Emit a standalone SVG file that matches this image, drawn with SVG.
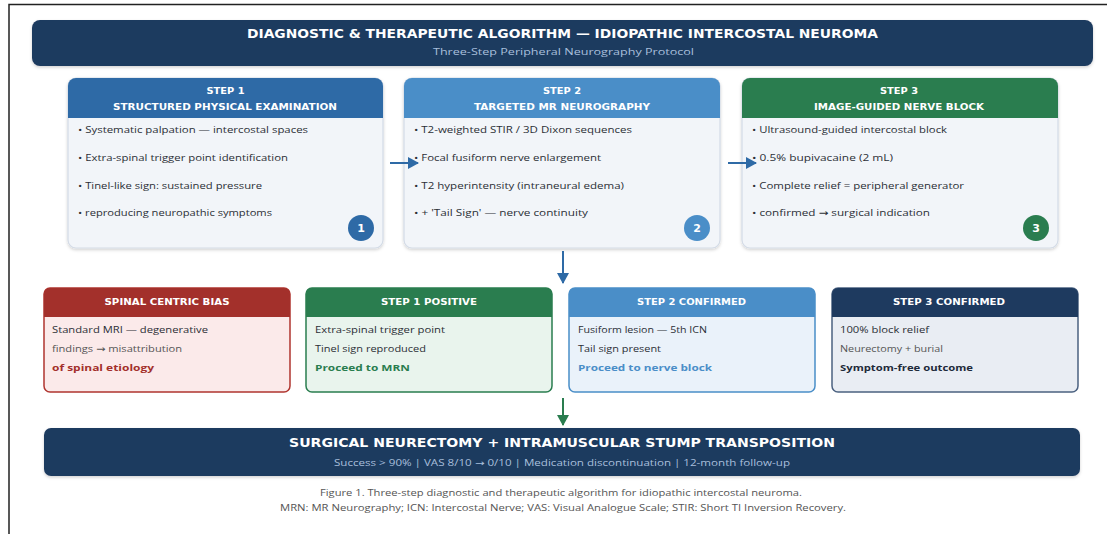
<svg xmlns="http://www.w3.org/2000/svg" width="1107" height="534" viewBox="0 0 1107 534">
<style>
.bg{fill:#ffffff}
.frame{fill:none;stroke:#222;stroke-width:1.5}
.navy{fill:#1e3a5f}
.ttl{font-family:"DejaVu Sans",sans-serif;font-weight:bold;fill:#ffffff}
.sub{font-family:"Open Sans","DejaVu Sans",sans-serif;fill:#a8bfdc}
.body{fill:#f2f5f9;stroke:#d3dbe6;stroke-width:1.2}
.bul{font-family:"Open Sans","DejaVu Sans",sans-serif;font-size:9.5px;fill:#2b2f36}
.hd{font-family:"DejaVu Sans",sans-serif;font-weight:bold;font-size:9px;fill:#ffffff;text-anchor:middle}
.num{font-family:"DejaVu Sans",sans-serif;font-weight:bold;font-size:11px;fill:#ffffff;text-anchor:middle}
.ln{font-family:"Open Sans","DejaVu Sans",sans-serif;font-size:9.5px;fill:#2b2f36}
.lnb{font-family:"Open Sans","DejaVu Sans",sans-serif;font-size:9.5px;font-weight:bold}
.cap{font-family:"Open Sans","DejaVu Sans",sans-serif;font-size:8.5px;fill:#555;text-anchor:middle}
.conn{fill:none;stroke-width:2}
</style>
<defs>
<marker id="ab" markerUnits="userSpaceOnUse" markerWidth="12" markerHeight="12" refX="10" refY="6" orient="auto"><path d="M0,0 L11,6 L0,12 z" fill="#2e6aa6"/></marker>
<marker id="ag" markerUnits="userSpaceOnUse" markerWidth="12" markerHeight="12" refX="10" refY="6" orient="auto"><path d="M0,0 L11,6 L0,12 z" fill="#2a7d4f"/></marker>
<filter id="sh" x="-5%" y="-5%" width="110%" height="120%"><feDropShadow dx="0" dy="1.5" stdDeviation="1.5" flood-color="#000" flood-opacity="0.18"/></filter>
</defs>
<rect class="bg" x="0" y="0" width="1107" height="534"/>
<path class="frame" d="M9,534 V4.5 H1107"/>

<g id="header">
<rect class="navy" x="32" y="20" width="1061" height="46" rx="8" filter="url(#sh)"/>
<text class="ttl" x="562.5" y="38" font-size="11.5" text-anchor="middle" textLength="631" lengthAdjust="spacingAndGlyphs">DIAGNOSTIC &amp; THERAPEUTIC ALGORITHM — IDIOPATHIC INTERCOSTAL NEUROMA</text>
<text class="sub" x="563.5" y="55" font-size="8.5" text-anchor="middle" textLength="261" lengthAdjust="spacingAndGlyphs">Three-Step Peripheral Neurography Protocol</text>
</g>

<g id="step1">
<rect class="body" x="68" y="78" width="315" height="170" rx="8" filter="url(#sh)"/>
<path d="M68,118 V86 a8,8 0 0 1 8,-8 H375 a8,8 0 0 1 8,8 V118 z" fill="#2e6aa6"/>
<text class="hd" x="225.5" y="94" textLength="38" lengthAdjust="spacingAndGlyphs">STEP  1</text>
<text class="hd" x="225" y="110" textLength="224" lengthAdjust="spacingAndGlyphs">STRUCTURED PHYSICAL EXAMINATION</text>
<text class="bul" x="78" y="133" textLength="230" lengthAdjust="spacingAndGlyphs">• Systematic palpation — intercostal spaces</text>
<text class="bul" x="78" y="161" textLength="210" lengthAdjust="spacingAndGlyphs">• Extra-spinal trigger point identification</text>
<text class="bul" x="78" y="189" textLength="184" lengthAdjust="spacingAndGlyphs">• Tinel-like sign: sustained pressure</text>
<text class="bul" x="78" y="216" textLength="194" lengthAdjust="spacingAndGlyphs">• reproducing neuropathic symptoms</text>
<circle cx="361" cy="228" r="13" fill="#2e6aa6"/>
<text class="num" x="361" y="232">1</text>
</g>

<g id="step2">
<rect class="body" x="404" y="78" width="316" height="170" rx="8" filter="url(#sh)"/>
<path d="M404,118 V86 a8,8 0 0 1 8,-8 H712 a8,8 0 0 1 8,8 V118 z" fill="#4a8ec8"/>
<text class="hd" x="562" y="94" textLength="38" lengthAdjust="spacingAndGlyphs">STEP  2</text>
<text class="hd" x="562" y="110" textLength="176" lengthAdjust="spacingAndGlyphs">TARGETED MR NEUROGRAPHY</text>
<text class="bul" x="414" y="133" textLength="218" lengthAdjust="spacingAndGlyphs">• T2-weighted STIR / 3D Dixon sequences</text>
<text class="bul" x="414" y="161" textLength="187" lengthAdjust="spacingAndGlyphs">• Focal fusiform nerve enlargement</text>
<text class="bul" x="414" y="189" textLength="210" lengthAdjust="spacingAndGlyphs">• T2 hyperintensity (intraneural edema)</text>
<text class="bul" x="414" y="216" textLength="174" lengthAdjust="spacingAndGlyphs">• + 'Tail Sign' — nerve continuity</text>
<circle cx="697" cy="228" r="13" fill="#4a8ec8"/>
<text class="num" x="697" y="232">2</text>
</g>

<g id="step3">
<rect class="body" x="742" y="78" width="316" height="170" rx="8" filter="url(#sh)"/>
<path d="M742,118 V86 a8,8 0 0 1 8,-8 H1050 a8,8 0 0 1 8,8 V118 z" fill="#2a7d4f"/>
<text class="hd" x="899" y="94" textLength="38" lengthAdjust="spacingAndGlyphs">STEP  3</text>
<text class="hd" x="899" y="110" textLength="170" lengthAdjust="spacingAndGlyphs">IMAGE-GUIDED NERVE BLOCK</text>
<text class="bul" x="752" y="133" textLength="195" lengthAdjust="spacingAndGlyphs">• Ultrasound-guided intercostal block</text>
<text class="bul" x="752" y="161" textLength="141" lengthAdjust="spacingAndGlyphs">• 0.5% bupivacaine (2 mL)</text>
<text class="bul" x="752" y="189" textLength="212" lengthAdjust="spacingAndGlyphs">• Complete relief = peripheral generator</text>
<text class="bul" x="752" y="216" textLength="178" lengthAdjust="spacingAndGlyphs">• confirmed  →  surgical indication</text>
<circle cx="1036" cy="228" r="13" fill="#2a7d4f"/>
<text class="num" x="1036" y="232">3</text>
</g>

<g id="bias">
<rect x="44" y="288" width="246" height="104" rx="6" fill="#fbeaea" stroke="#b0352f" stroke-width="1.5"/>
<path d="M44,317 V294 a6,6 0 0 1 6,-6 H284 a6,6 0 0 1 6,6 V317 z" fill="#a3302b"/>
<text class="hd" x="167" y="305" textLength="125" lengthAdjust="spacingAndGlyphs">SPINAL CENTRIC BIAS</text>
<text class="ln" x="52" y="333" textLength="156" lengthAdjust="spacingAndGlyphs">Standard MRI — degenerative</text>
<text class="ln" x="52" y="352" fill="#555" style="fill:#555" textLength="130" lengthAdjust="spacingAndGlyphs">findings → misattribution</text>
<text class="lnb" x="52" y="371" fill="#a3302b" textLength="102" lengthAdjust="spacingAndGlyphs">of spinal etiology</text>
</g>

<g id="step1pos">
<rect x="306" y="288" width="246" height="104" rx="6" fill="#e9f4ed" stroke="#2a7d4f" stroke-width="1.5"/>
<path d="M306,317 V294 a6,6 0 0 1 6,-6 H546 a6,6 0 0 1 6,6 V317 z" fill="#2a7d4f"/>
<text class="hd" x="429" y="305" textLength="96" lengthAdjust="spacingAndGlyphs">STEP 1 POSITIVE</text>
<text class="ln" x="315" y="333" textLength="130" lengthAdjust="spacingAndGlyphs">Extra-spinal trigger point</text>
<text class="ln" x="315" y="352" textLength="111" lengthAdjust="spacingAndGlyphs">Tinel sign reproduced</text>
<text class="lnb" x="315" y="371" fill="#2a7d4f" textLength="95" lengthAdjust="spacingAndGlyphs">Proceed to MRN</text>
</g>

<g id="step2conf">
<rect x="569" y="288" width="246" height="104" rx="6" fill="#eaf2fa" stroke="#4a8ec8" stroke-width="1.5"/>
<path d="M569,317 V294 a6,6 0 0 1 6,-6 H809 a6,6 0 0 1 6,6 V317 z" fill="#4a8ec8"/>
<text class="hd" x="691.5" y="305" textLength="109" lengthAdjust="spacingAndGlyphs">STEP 2 CONFIRMED</text>
<text class="ln" x="578" y="333" textLength="129" lengthAdjust="spacingAndGlyphs">Fusiform lesion — 5th ICN</text>
<text class="ln" x="578" y="352" textLength="83" lengthAdjust="spacingAndGlyphs">Tail sign present</text>
<text class="lnb" x="578" y="371" fill="#4a8ec8" textLength="134" lengthAdjust="spacingAndGlyphs">Proceed to nerve block</text>
</g>

<g id="step3conf">
<rect x="832" y="288" width="246" height="104" rx="6" fill="#e9edf3" stroke="#4b6180" stroke-width="1.5"/>
<path d="M832,317 V294 a6,6 0 0 1 6,-6 H1072 a6,6 0 0 1 6,6 V317 z" fill="#1e3a5f"/>
<text class="hd" x="949" y="305" textLength="112" lengthAdjust="spacingAndGlyphs">STEP 3 CONFIRMED</text>
<text class="ln" x="840" y="333" textLength="89" lengthAdjust="spacingAndGlyphs">100% block relief</text>
<text class="ln" x="840" y="352" style="fill:#555" textLength="103" lengthAdjust="spacingAndGlyphs">Neurectomy + burial</text>
<text class="lnb" x="840" y="371" fill="#1e2a3a" textLength="133" lengthAdjust="spacingAndGlyphs">Symptom-free outcome</text>
</g>

<g id="surgery">
<rect class="navy" x="44" y="428" width="1036" height="48" rx="7" filter="url(#sh)"/>
<text class="ttl" x="562" y="447" font-size="12.5" text-anchor="middle" textLength="546" lengthAdjust="spacingAndGlyphs">SURGICAL NEURECTOMY  +  INTRAMUSCULAR STUMP TRANSPOSITION</text>
<text class="sub" x="562" y="466" font-size="8.5" text-anchor="middle" textLength="456" lengthAdjust="spacingAndGlyphs">Success &gt; 90%  |  VAS 8/10 → 0/10  |  Medication discontinuation  |  12-month follow-up</text>
</g>

<g id="caption">
<text class="cap" x="561" y="496" textLength="482" lengthAdjust="spacingAndGlyphs">Figure 1. Three-step diagnostic and therapeutic algorithm for idiopathic intercostal neuroma.</text>
<text class="cap" x="563" y="511" textLength="566" lengthAdjust="spacingAndGlyphs">MRN: MR Neurography; ICN: Intercostal Nerve; VAS: Visual Analogue Scale; STIR: Short TI Inversion Recovery.</text>
</g>

<g id="connectors">
<line class="conn" x1="390" y1="163" x2="418" y2="163" stroke="#2e6aa6" marker-end="url(#ab)"/>
<line class="conn" x1="728" y1="163" x2="756" y2="163" stroke="#2e6aa6" marker-end="url(#ab)"/>
<line class="conn" x1="563" y1="251" x2="563" y2="283" stroke="#2e6aa6" marker-end="url(#ab)"/>
<line class="conn" x1="563" y1="398" x2="563" y2="425" stroke="#2a7d4f" marker-end="url(#ag)"/>
</g>
</svg>
